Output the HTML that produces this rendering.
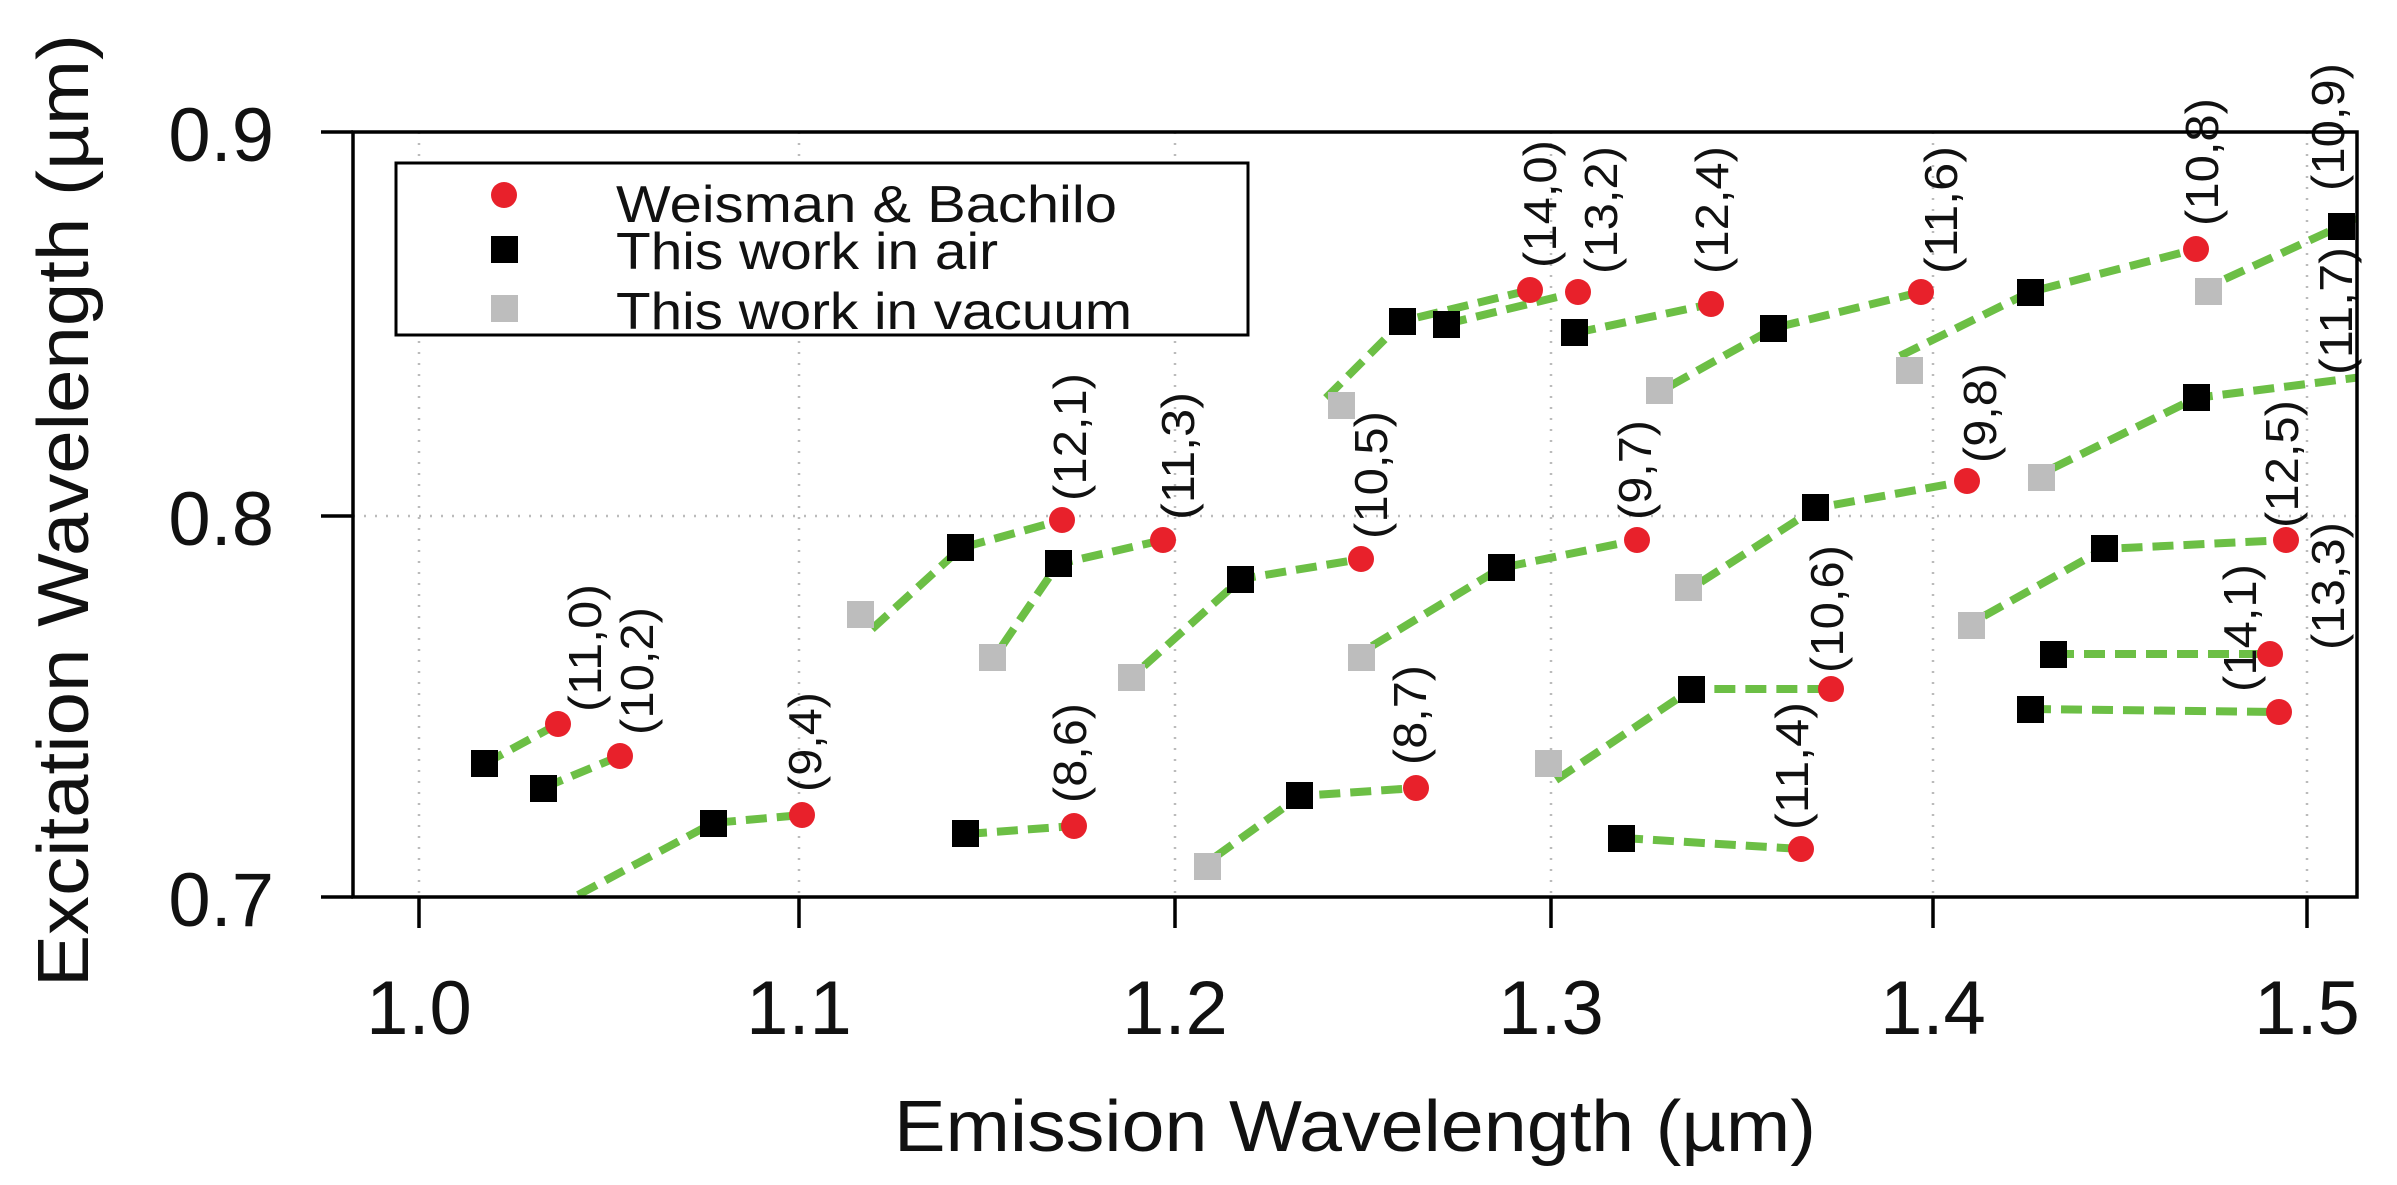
<!DOCTYPE html>
<html><head><meta charset="utf-8"><style>
html,body{margin:0;padding:0;background:#fff;}
svg{display:block;}
text{font-family:"Liberation Sans",Arial,sans-serif;fill:#111;}
</style></head><body>
<svg width="2397" height="1185" viewBox="0 0 2397 1185" xmlns="http://www.w3.org/2000/svg">
<defs><clipPath id="c"><rect x="353" y="132" width="2005" height="765"/></clipPath></defs>
<g stroke="#bbb" stroke-width="2.5" stroke-dasharray="2,9">
<line x1="419" y1="132" x2="419" y2="897"/>
<line x1="799" y1="132" x2="799" y2="897"/>
<line x1="1175" y1="132" x2="1175" y2="897"/>
<line x1="1551" y1="132" x2="1551" y2="897"/>
<line x1="1933" y1="132" x2="1933" y2="897"/>
<line x1="2307" y1="132" x2="2307" y2="897"/>
<line x1="353" y1="516" x2="2357" y2="516"/>
</g>
<g clip-path="url(#c)" fill="none" stroke="#6cbf45" stroke-width="8" stroke-dasharray="21,10">
<polyline points="484,764 558,724"/>
<polyline points="543,788 620,756"/>
<polyline points="578,895 713,823 802,815"/>
<polyline points="966,834 1074,826"/>
<polyline points="872,629 961,548 1062,520"/>
<polyline points="1002,646 1058,564 1163,540"/>
<polyline points="1144,666 1241,579 1361,559"/>
<polyline points="1215,857 1300,796 1416,788"/>
<polyline points="1326,398 1403,321 1530,290"/>
<polyline points="1446,324 1578,292"/>
<polyline points="1575,333 1711,304"/>
<polyline points="1670,386 1774,328 1921,292"/>
<polyline points="1900,356 2030,292 2196,249"/>
<polyline points="2225,279 2341,226 2370,210"/>
<polyline points="1372,646 1501,568 1637,540"/>
<polyline points="1701,582 1816,508 1967,481"/>
<polyline points="2053,468 2196,398 2370,376"/>
<polyline points="1984,616 2104,549 2286,540"/>
<polyline points="2053,654 2270,654"/>
<polyline points="2030,709 2279,712"/>
<polyline points="1556,780 1692,689 1831,689"/>
<polyline points="1622,838 1801,849"/>
</g>
<g fill="#bdbdbd">
<rect x="847" y="601" width="27" height="27"/>
<rect x="979" y="644" width="27" height="27"/>
<rect x="1118" y="664" width="27" height="27"/>
<rect x="1328" y="392" width="27" height="27"/>
<rect x="1348" y="644" width="27" height="27"/>
<rect x="1646" y="377" width="27" height="27"/>
<rect x="1675" y="574" width="27" height="27"/>
<rect x="1535" y="750" width="27" height="27"/>
<rect x="1896" y="357" width="27" height="27"/>
<rect x="2028" y="464" width="27" height="27"/>
<rect x="1958" y="612" width="27" height="27"/>
<rect x="2195" y="278" width="27" height="27"/>
<rect x="1194" y="853" width="27" height="27"/>
</g>
<g fill="#000">
<rect x="471" y="750" width="27" height="27"/>
<rect x="530" y="775" width="27" height="27"/>
<rect x="700" y="810" width="27" height="27"/>
<rect x="952" y="820" width="27" height="27"/>
<rect x="947" y="534" width="27" height="27"/>
<rect x="1045" y="550" width="27" height="27"/>
<rect x="1227" y="566" width="27" height="27"/>
<rect x="1286" y="782" width="27" height="27"/>
<rect x="1389" y="308" width="27" height="27"/>
<rect x="1433" y="311" width="27" height="27"/>
<rect x="1561" y="319" width="27" height="27"/>
<rect x="1760" y="315" width="27" height="27"/>
<rect x="1488" y="554" width="27" height="27"/>
<rect x="1678" y="676" width="27" height="27"/>
<rect x="1802" y="494" width="27" height="27"/>
<rect x="1608" y="825" width="27" height="27"/>
<rect x="2017" y="279" width="27" height="27"/>
<rect x="2183" y="384" width="27" height="27"/>
<rect x="2091" y="535" width="27" height="27"/>
<rect x="2040" y="641" width="27" height="27"/>
<rect x="2017" y="696" width="27" height="27"/>
<rect x="2328" y="213" width="27" height="27"/>
</g>
<g fill="#e8212b">
<circle cx="558" cy="724" r="13"/>
<circle cx="620" cy="756" r="13"/>
<circle cx="802" cy="815" r="13"/>
<circle cx="1074" cy="826" r="13"/>
<circle cx="1062" cy="520" r="13"/>
<circle cx="1163" cy="540" r="13"/>
<circle cx="1361" cy="559" r="13"/>
<circle cx="1416" cy="788" r="13"/>
<circle cx="1530" cy="290" r="13"/>
<circle cx="1578" cy="292" r="13"/>
<circle cx="1711" cy="304" r="13"/>
<circle cx="1921" cy="292" r="13"/>
<circle cx="1637" cy="540" r="13"/>
<circle cx="1831" cy="689" r="13"/>
<circle cx="1967" cy="481" r="13"/>
<circle cx="1801" cy="849" r="13"/>
<circle cx="2196" cy="249" r="13"/>
<circle cx="2286" cy="540" r="13"/>
<circle cx="2270" cy="654" r="13"/>
<circle cx="2279" cy="712" r="13"/>
</g>
<g font-size="46">
<text transform="translate(601,712) rotate(-90)" textLength="128" lengthAdjust="spacingAndGlyphs">(11,0)</text>
<text transform="translate(653,735) rotate(-90)" textLength="128" lengthAdjust="spacingAndGlyphs">(10,2)</text>
<text transform="translate(821,792) rotate(-90)" textLength="100" lengthAdjust="spacingAndGlyphs">(9,4)</text>
<text transform="translate(1086,803) rotate(-90)" textLength="100" lengthAdjust="spacingAndGlyphs">(8,6)</text>
<text transform="translate(1086,501) rotate(-90)" textLength="128" lengthAdjust="spacingAndGlyphs">(12,1)</text>
<text transform="translate(1194,520) rotate(-90)" textLength="128" lengthAdjust="spacingAndGlyphs">(11,3)</text>
<text transform="translate(1387,539) rotate(-90)" textLength="128" lengthAdjust="spacingAndGlyphs">(10,5)</text>
<text transform="translate(1426,765) rotate(-90)" textLength="100" lengthAdjust="spacingAndGlyphs">(8,7)</text>
<text transform="translate(1556,268) rotate(-90)" textLength="128" lengthAdjust="spacingAndGlyphs">(14,0)</text>
<text transform="translate(1617,274) rotate(-90)" textLength="128" lengthAdjust="spacingAndGlyphs">(13,2)</text>
<text transform="translate(1728,274) rotate(-90)" textLength="128" lengthAdjust="spacingAndGlyphs">(12,4)</text>
<text transform="translate(1957,274) rotate(-90)" textLength="128" lengthAdjust="spacingAndGlyphs">(11,6)</text>
<text transform="translate(1651,520) rotate(-90)" textLength="100" lengthAdjust="spacingAndGlyphs">(9,7)</text>
<text transform="translate(1996,463) rotate(-90)" textLength="100" lengthAdjust="spacingAndGlyphs">(9,8)</text>
<text transform="translate(1843,673) rotate(-90)" textLength="128" lengthAdjust="spacingAndGlyphs">(10,6)</text>
<text transform="translate(1808,830) rotate(-90)" textLength="128" lengthAdjust="spacingAndGlyphs">(11,4)</text>
<text transform="translate(2218,226) rotate(-90)" textLength="128" lengthAdjust="spacingAndGlyphs">(10,8)</text>
<text transform="translate(2344,191) rotate(-90)" textLength="128" lengthAdjust="spacingAndGlyphs">(10,9)</text>
<text transform="translate(2352,375) rotate(-90)" textLength="128" lengthAdjust="spacingAndGlyphs">(11,7)</text>
<text transform="translate(2298,528) rotate(-90)" textLength="128" lengthAdjust="spacingAndGlyphs">(12,5)</text>
<text transform="translate(2256,692) rotate(-90)" textLength="128" lengthAdjust="spacingAndGlyphs">(14,1)</text>
<text transform="translate(2344,650) rotate(-90)" textLength="128" lengthAdjust="spacingAndGlyphs">(13,3)</text>
</g>
<rect x="396" y="163" width="852" height="172" fill="#fff" stroke="#000" stroke-width="3"/>
<circle cx="504" cy="195" r="13" fill="#e8212b"/>
<rect x="491" y="236" width="27" height="27" fill="#000"/>
<rect x="491" y="295" width="27" height="27" fill="#bdbdbd"/>
<g font-size="52">
<text x="616" y="222" textLength="501" lengthAdjust="spacingAndGlyphs">Weisman &amp; Bachilo</text>
<text x="616" y="269" textLength="382" lengthAdjust="spacingAndGlyphs">This work in air</text>
<text x="616" y="329" textLength="516" lengthAdjust="spacingAndGlyphs">This work in vacuum</text>
</g>
<rect x="353" y="132" width="2004" height="765" fill="none" stroke="#000" stroke-width="3.5"/>
<g stroke="#000" stroke-width="3.5">
<line x1="321" y1="132" x2="353" y2="132"/>
<line x1="321" y1="516" x2="353" y2="516"/>
<line x1="321" y1="897" x2="353" y2="897"/>
<line x1="419" y1="897" x2="419" y2="928"/>
<line x1="799" y1="897" x2="799" y2="928"/>
<line x1="1175" y1="897" x2="1175" y2="928"/>
<line x1="1551" y1="897" x2="1551" y2="928"/>
<line x1="1933" y1="897" x2="1933" y2="928"/>
<line x1="2307" y1="897" x2="2307" y2="928"/>
</g>
<g font-size="76" text-anchor="end">
<text x="274" y="161">0.9</text>
<text x="274" y="545">0.8</text>
<text x="274" y="926">0.7</text>
</g>
<g font-size="76" text-anchor="middle">
<text x="419" y="1034">1.0</text>
<text x="799" y="1034">1.1</text>
<text x="1175" y="1034">1.2</text>
<text x="1551" y="1034">1.3</text>
<text x="1933" y="1034">1.4</text>
<text x="2307" y="1034">1.5</text>
</g>
<text x="894" y="1151" font-size="72" textLength="922" lengthAdjust="spacingAndGlyphs">Emission Wavelength (µm)</text>
<text transform="translate(88,987) rotate(-90)" font-size="72" textLength="953" lengthAdjust="spacingAndGlyphs">Excitation Wavelength (µm)</text>
</svg>
</body></html>
